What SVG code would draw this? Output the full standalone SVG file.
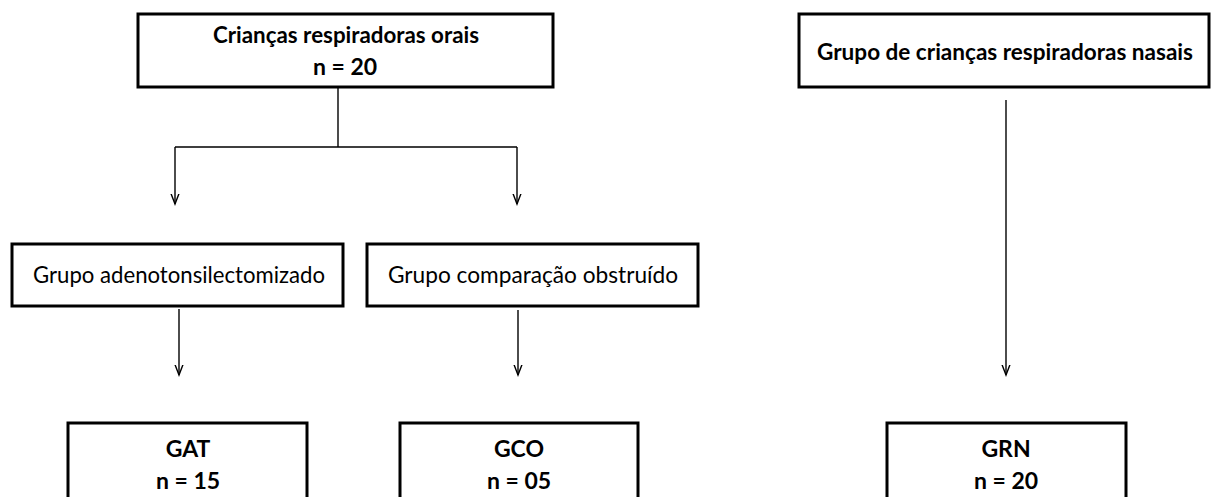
<svg xmlns="http://www.w3.org/2000/svg" width="1212" height="497" viewBox="0 0 1212 497">
<defs>
<marker id="arr" markerUnits="userSpaceOnUse" markerWidth="20" markerHeight="20" viewBox="-10 -10 20 20" refX="0" refY="0" orient="auto">
<path d="M-13,-5 L0,0 L-13,5" fill="none" stroke="#000" stroke-width="1.4"/>
</marker>
</defs>
<style>
.box{fill:#fff;stroke:#000;stroke-width:3}
.con{fill:none;stroke:#000;stroke-width:1.4}
.b{font-family:Lato,"Liberation Sans",sans-serif;font-weight:bold;font-size:23px;fill:#000;text-anchor:middle}
.r{font-family:Lato,"Liberation Sans",sans-serif;font-size:23px;fill:#000;text-anchor:middle}
</style>
<rect width="1212" height="497" fill="#fff"/>
<g id="connectors">
<path class="con" d="M338,88 V147 M175,147 H517"/>
<path class="con" d="M175,147 V204" marker-end="url(#arr)"/>
<path class="con" d="M517,147 V204" marker-end="url(#arr)"/>
<path class="con" d="M179,309 V375" marker-end="url(#arr)"/>
<path class="con" d="M518,310 V375" marker-end="url(#arr)"/>
<path class="con" d="M1006,100 V375" marker-end="url(#arr)"/>
</g>
<g id="orais">
<rect class="box" x="138" y="14" width="415" height="73"/>
<text class="b" x="346" y="43" textLength="266" lengthAdjust="spacingAndGlyphs">Crianças respiradoras orais</text>
<text class="b" x="345" y="75">n = 20</text>
</g>
<g id="nasais">
<rect class="box" x="799" y="14" width="410" height="73"/>
<text class="b" x="1005" y="60" textLength="376" lengthAdjust="spacingAndGlyphs">Grupo de crianças respiradoras nasais</text>
</g>
<g id="adeno">
<rect class="box" x="12" y="244" width="331" height="62"/>
<text class="r" x="179" y="283" textLength="292" lengthAdjust="spacingAndGlyphs">Grupo adenotonsilectomizado</text>
</g>
<g id="comparacao">
<rect class="box" x="367" y="244" width="331" height="62"/>
<text class="r" x="533" y="283" textLength="290" lengthAdjust="spacingAndGlyphs">Grupo comparação obstruído</text>
</g>
<g id="gat">
<rect class="box" x="68" y="423" width="239" height="90"/>
<text class="b" x="188" y="457">GAT</text>
<text class="b" x="188" y="489">n = 15</text>
</g>
<g id="gco">
<rect class="box" x="400" y="423" width="238" height="90"/>
<text class="b" x="519" y="457">GCO</text>
<text class="b" x="519" y="489">n = 05</text>
</g>
<g id="grn">
<rect class="box" x="887" y="423" width="239" height="90"/>
<text class="b" x="1006" y="457">GRN</text>
<text class="b" x="1006" y="489">n = 20</text>
</g>
</svg>
